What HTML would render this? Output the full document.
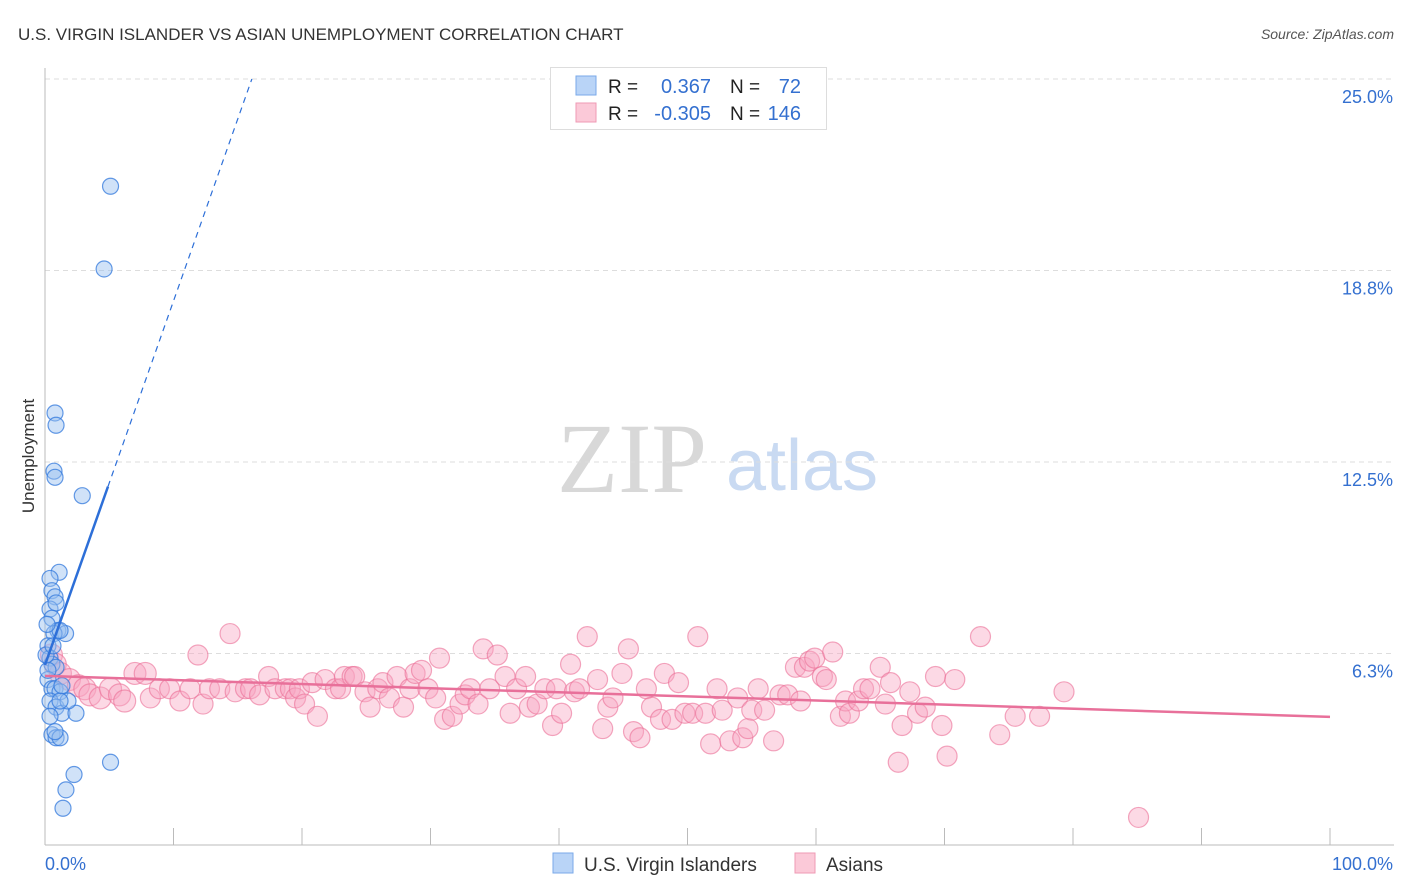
<!DOCTYPE html>
<html><head><meta charset="utf-8"><style>
body{margin:0;background:#fff;font-family:"Liberation Sans",sans-serif;}
svg{display:block}
</style></head><body>
<svg id="chart" width="1406" height="892">
<text x="18" y="40" font-size="17" fill="#333">U.S. VIRGIN ISLANDER VS ASIAN UNEMPLOYMENT CORRELATION CHART</text>
<text x="1394" y="39" font-size="14" fill="#555" text-anchor="end" font-style="italic">Source: ZipAtlas.com</text>
<text x="34" y="456" font-size="17" fill="#333" transform="rotate(-90 34 456)" text-anchor="middle">Unemployment</text>
<g><text x="632" y="492" font-size="100" fill="#d8d8d8" text-anchor="middle" font-family="Liberation Serif,serif">ZIP</text><text x="802" y="490" font-size="72" fill="#c9daf2" text-anchor="middle">atlas</text></g>
<g id="grid"></g><g id="axes"></g><g id="pts"></g><g id="lines"></g>
<g>
<rect x="550.5" y="67.5" width="276" height="62" fill="#fff" stroke="#ddd"/>
<rect x="576" y="76" width="20" height="19" fill="#b9d4f7" stroke="#7aa9e8"/>
<rect x="576" y="103" width="20" height="19" fill="#fbc9d8" stroke="#ef9ab4"/>
<text x="608" y="93" font-size="19" fill="#222">R =</text><text x="711" y="93" font-size="20" fill="#3470d0" text-anchor="end">0.367</text>
<text x="730" y="93" font-size="19" fill="#222">N =</text><text x="801" y="93" font-size="20" fill="#3470d0" text-anchor="end">72</text>
<text x="608" y="120" font-size="19" fill="#222">R =</text><text x="711" y="120" font-size="20" fill="#3470d0" text-anchor="end">-0.305</text>
<text x="730" y="120" font-size="19" fill="#222">N =</text><text x="801" y="120" font-size="20" fill="#3470d0" text-anchor="end">146</text>
</g>
<g>
<rect x="553" y="853" width="20" height="20" fill="#b9d4f7" stroke="#7aa9e8"/><text x="584" y="871" font-size="19" fill="#333">U.S. Virgin Islanders</text>
<rect x="795" y="853" width="20" height="20" fill="#fbc9d8" stroke="#ef9ab4"/><text x="826" y="871" font-size="19" fill="#333">Asians</text>
</g>
</svg>
<script>
const yTicks=[25,18.75,12.5,6.25];
const yTickLabels=["25.0%","18.8%","12.5%","6.3%"];
const xEndLabels=["0.0%","100.0%"];
const blueX=[5.1,4.6,0.78,0.86,0.7,0.78,2.9,1.1,0.39,0.54,0.78,0.39,0.86,0.54,1.0,1.6,0.7,1.17,0.23,0.39,0.54,0.86,0.23,0.54,0.78,1.17,0.39,0.86,1.32,2.41,1.79,0.54,0.86,1.17,0.78,5.1,2.26,1.63,1.4,0.23,0.08,0.62,0.16,1.17,0.39,1.32];
const blueY=[21.5,18.8,14.1,13.7,12.2,12.0,11.4,8.9,8.7,8.3,8.1,7.7,7.9,7.4,7.0,6.9,6.9,7.0,6.5,6.1,5.9,5.8,5.4,5.1,5.1,5.0,4.7,4.5,4.3,4.3,4.7,3.6,3.5,3.5,3.7,2.7,2.3,1.8,1.2,5.7,6.2,6.5,7.2,4.7,4.2,5.2];
const pinkX=[0.5,0.8,1.2,1.9,2.6,3.1,3.5,4.3,5.1,5.8,6.2,7.0,7.8,8.2,8.9,9.7,10.5,11.3,11.9,12.3,12.8,13.6,14.4,14.8,15.6,16.0,16.7,17.4,17.9,18.7,19.1,19.5,19.8,20.2,20.8,21.2,21.8,22.6,23.0,23.3,23.9,24.1,24.9,25.3,25.9,26.3,26.8,27.4,27.9,28.4,28.8,29.3,29.8,30.4,30.7,31.1,31.7,32.3,32.7,33.1,33.7,34.1,34.6,35.2,35.8,36.2,36.7,37.4,37.7,38.3,38.9,39.5,39.8,40.2,40.9,41.2,41.6,42.2,43.0,43.4,43.8,44.2,44.9,45.4,45.8,46.3,46.8,47.2,47.9,48.2,48.8,49.3,49.8,50.4,50.8,51.4,51.8,52.3,52.7,53.3,53.9,54.3,54.7,55.0,55.5,56.0,56.7,57.2,57.8,58.4,58.8,59.1,59.5,59.9,60.5,60.8,61.3,61.9,62.3,62.6,63.3,63.7,64.2,65.0,65.4,65.8,66.4,66.7,67.3,67.9,68.5,69.3,69.8,70.2,70.8,72.8,74.3,75.5,77.4,79.3,85.1];
const pinkY=[6.2,5.9,5.6,5.4,5.2,5.1,4.9,4.8,5.1,4.9,4.7,5.6,5.6,4.8,5.1,5.1,4.7,5.1,6.2,4.6,5.1,5.1,6.9,5.0,5.1,5.1,4.9,5.5,5.1,5.1,5.1,4.8,5.1,4.6,5.3,4.2,5.4,5.1,5.1,5.5,5.5,5.5,5.0,4.5,5.1,5.3,4.8,5.5,4.5,5.1,5.6,5.7,5.1,4.8,6.1,4.1,4.2,4.6,4.9,5.1,4.6,6.4,5.1,6.2,5.5,4.3,5.1,5.5,4.5,4.6,5.1,3.9,5.1,4.3,5.9,5.0,5.1,6.8,5.4,3.8,4.5,4.8,5.6,6.4,3.7,3.5,5.1,4.5,4.1,5.6,4.1,5.3,4.3,4.3,6.8,4.3,3.3,5.1,4.4,3.4,4.8,3.5,3.8,4.4,5.1,4.4,3.4,4.9,4.9,5.8,4.7,5.8,6.0,6.1,5.5,5.4,6.3,4.2,4.7,4.3,4.7,5.1,5.1,5.8,4.6,5.3,2.7,3.9,5.0,4.3,4.5,5.5,3.9,2.9,5.4,6.8,3.6,4.2,4.2,5.0,0.9];
const blueTrend=[5.875,1.188];
const pinkTrend=[5.52,-1.34];
const L=45,R=1330,T=79,B=845;
const sx=v=>L+v/100*(R-L), sy=v=>B-v/25*(B-T);
const NS="http://www.w3.org/2000/svg";
function mk(tag,attrs,parent){const e=document.createElementNS(NS,tag);for(const k in attrs)e.setAttribute(k,attrs[k]);document.getElementById(parent).appendChild(e);return e;}
yTicks.forEach((t,i)=>{
 const g=mk('line',{x1:L,x2:1394,y1:sy(t),y2:sy(t),stroke:'#ddd','stroke-dasharray':'5,4'},'grid');
 
 
 const tx=mk('text',{x:1393,y:sy(t)+24,'font-size':18,fill:'#3470d0','text-anchor':'end'},'grid');
 tx.textContent=yTickLabels[i];
 
 
});
const ax=mk('line',{x1:L,x2:1394,y1:B,y2:B,stroke:'#bbb'},'axes');


const ay=mk('line',{x1:L,x2:L,y1:68,y2:B,stroke:'#bbb'},'axes');


for(let i=0;i<=10;i++){const t=mk('line',{x1:sx(i*10),x2:sx(i*10),y1:828,y2:B,stroke:'#bbb'},'axes');
 
 }
const l0=mk('text',{x:45,y:870,'font-size':18,fill:'#3470d0'},'axes');l0.textContent=xEndLabels[0];


const l1=mk('text',{x:1393,y:870,'font-size':18,fill:'#3470d0','text-anchor':'end'},'axes');l1.textContent=xEndLabels[1];


const np=Math.min(pinkX.length,pinkY.length);
for(let i=0;i<np;i++){const x=pinkX[i];const c=mk('circle',{cx:sx(x),cy:sy(pinkY[i]),r:x<8?11:10,fill:'rgba(248,165,192,0.42)',stroke:'rgba(235,110,150,0.6)','stroke-width':1.2},'pts');
 
 }
blueX.forEach((x,i)=>{const c=mk('circle',{cx:sx(x),cy:sy(blueY[i]),r:8,fill:'rgba(150,190,240,0.45)',stroke:'rgba(50,120,220,0.75)','stroke-width':1.2},'pts');
 
 });
const bf=x=>blueTrend[0]+blueTrend[1]*x;
const xEnd=(25-blueTrend[0])/blueTrend[1];
const b1=mk('line',{x1:sx(0),y1:sy(bf(0)),x2:sx(4.9),y2:sy(bf(4.9)),stroke:'#2d6fd8','stroke-width':2.5},'lines');


const b2=mk('line',{x1:sx(4.9),y1:sy(bf(4.9)),x2:sx(xEnd),y2:sy(25),stroke:'#2d6fd8','stroke-width':1.2,'stroke-dasharray':'6,5'},'lines');


const p1=mk('line',{x1:sx(0),y1:sy(pinkTrend[0]),x2:sx(100),y2:sy(pinkTrend[0]+pinkTrend[1]),stroke:'#e8709a','stroke-width':2.5},'lines');


</script>
</body></html>
